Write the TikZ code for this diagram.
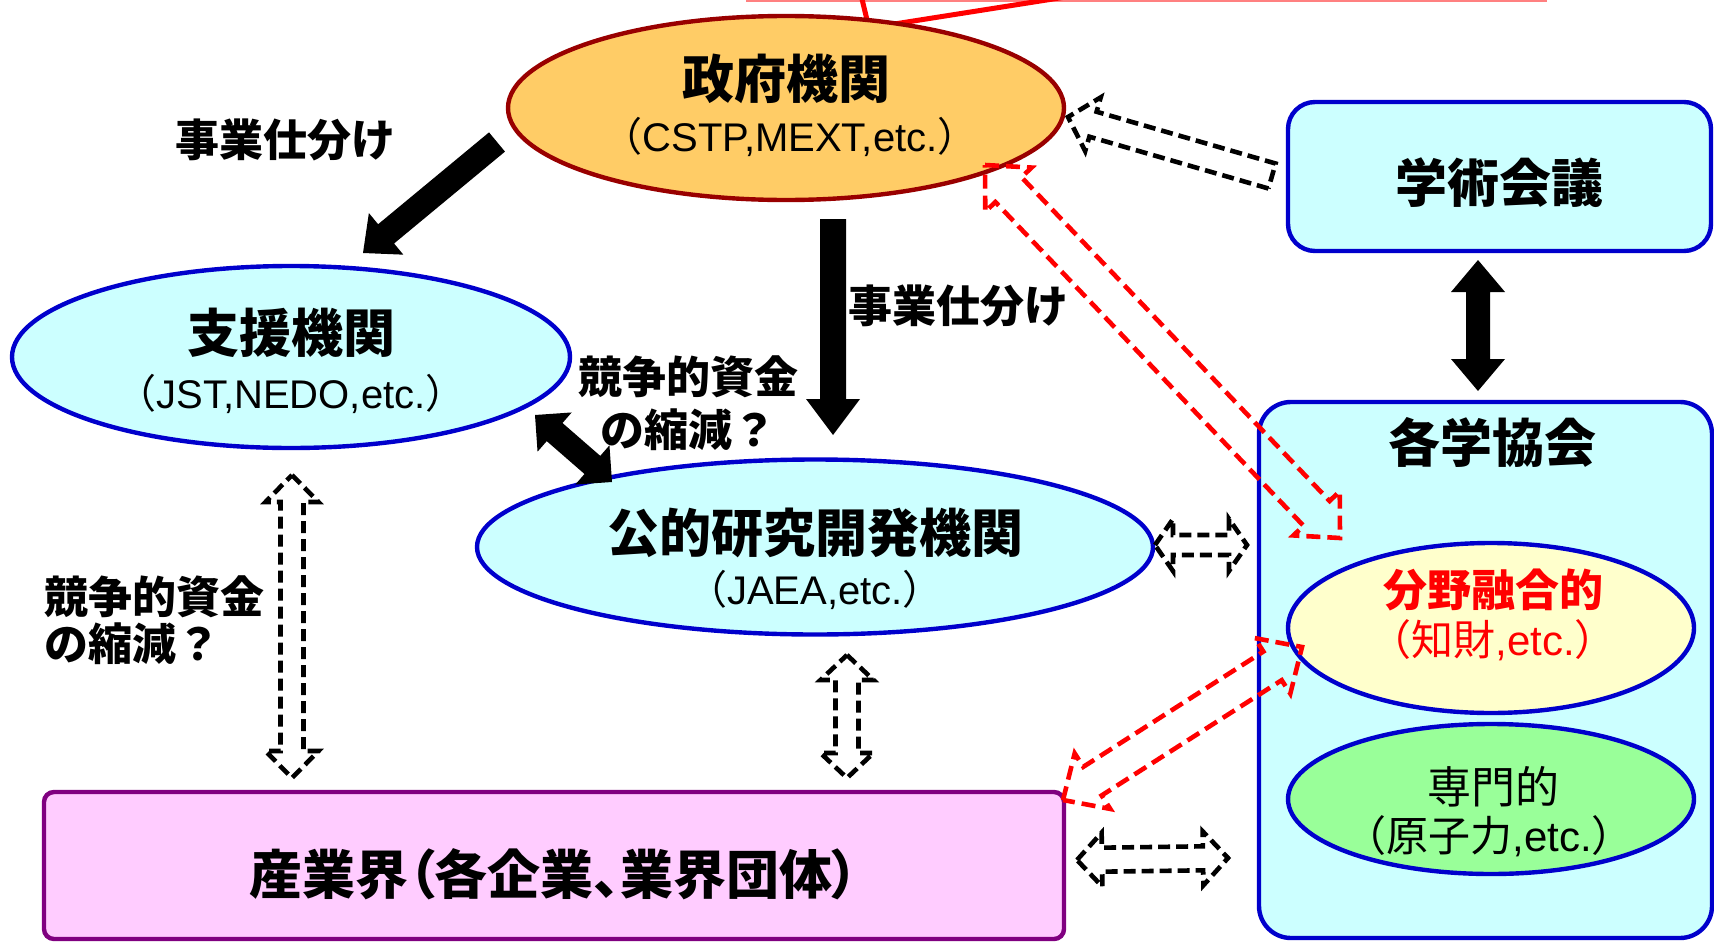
\documentclass[tikz,border=0pt]{standalone}
\usepackage{fontspec}
\setmainfont{Liberation Sans}
\newfontfamily\cjk{Noto Sans CJK JP}
\newfontfamily\cjkp{Noto Sans CJK JP}[RawFeature=+palt]
\usetikzlibrary{shapes.geometric,calc}
\definecolor{ovblue}{HTML}{0000CC}
\definecolor{ltcyan}{HTML}{CCFFFF}
\definecolor{govfill}{HTML}{FFCC66}
\definecolor{govline}{HTML}{990000}
\definecolor{ltyellow}{HTML}{FFFFCC}
\definecolor{ltgreen}{HTML}{99FF99}
\definecolor{ltpink}{HTML}{FFCCFF}
\definecolor{purp}{HTML}{800080}
\definecolor{callpink}{HTML}{FF8080}
\newcommand\sarrow[6]{%
  \coordinate (hb) at ($(#3)!#6!(#2)$);
  \draw[#1] ($(#2)!#4!90:(#3)$) -- ($(hb)!#4!90:(#3)$) -- ($(hb)!#5!90:(#3)$) -- (#3)
    -- ($(hb)!#5!-90:(#3)$) -- ($(hb)!#4!-90:(#3)$) -- ($(#2)!#4!-90:(#3)$) -- cycle;}
\newcommand\darrow[6]{%
  \coordinate (ha) at ($(#2)!#6!(#3)$);
  \coordinate (hb) at ($(#3)!#6!(#2)$);
  \draw[#1] (#2) -- ($(ha)!#5!90:(#3)$) -- ($(ha)!#4!90:(#3)$) -- ($(hb)!#4!90:(#3)$)
    -- ($(hb)!#5!90:(#3)$) -- (#3) -- ($(hb)!#5!-90:(#3)$) -- ($(hb)!#4!-90:(#3)$)
    -- ($(ha)!#4!-90:(#3)$) -- ($(ha)!#5!-90:(#3)$) -- cycle;}
\newcommand\jl{{\cjk （}}
\newcommand\jr{{\cjk ）}}
\begin{document}
\begin{tikzpicture}[x=0.5pt,y=-0.5pt,
  ttl/.style={font=\cjk\bfseries\fontsize{26}{30}\selectfont, inner sep=0},
  sub/.style={font=\fontsize{20}{24}\selectfont, inner sep=0},
  lbl/.style={font=\cjk\bfseries\fontsize{22}{26.5}\selectfont, inner sep=0},
  oval/.style={ellipse, draw=ovblue, line width=2.2pt, inner sep=0},
  rbox/.style={draw=ovblue, fill=ltcyan, line width=2.2pt},
  barr/.style={fill=black, draw=none},
  dblk/.style={draw=black, line width=2.3pt, dash pattern=on 6pt off 3pt},
  dred/.style={draw=red, line width=2.3pt, dash pattern=on 7pt off 3.5pt}]
\path[use as bounding box] (0,0) rectangle (1714,942);
\clip (0,0) rectangle (1714,942);
\fill[white] (0,0) rectangle (1714,942);

% callout tip at top
\draw[callpink, line width=0.8pt] (746,1) -- (1547,1);
\draw[red, line width=2.5pt] (861,-5) -- (869,28) -- (1110,-10);

% boxes
\draw[rbox, rounded corners=13.5pt] (1288,102) rectangle (1711,251);
\node[ttl] (gakujutsu) at (1499,183) {学術会議};
\draw[rbox, rounded corners=16pt] (1259,402) rectangle (1712,938);
\node[ttl] (kakugaku) at (1492,443) {各学協会};
\draw[draw=purp, fill=ltpink, line width=2.2pt, rounded corners=5pt] (44,792) rectangle (1064,939);
\node[ttl, font=\cjkp\bfseries\fontsize{26.5}{30}\selectfont] (sangyo) at (554,874) {産業界（各企業、業界団体）};

% ellipses
\node[oval, draw=govline, fill=govfill, minimum width=278pt, minimum height=92pt] (seifu) at (786,108) {};
\node[ttl] at (786,79) {政府機関};
\node[sub] at (790,137) {\jl CSTP,MEXT,etc.\jr};

\node[oval, fill=ltcyan, minimum width=279pt, minimum height=91pt] (shien) at (291,357) {};
\node[ttl] at (291,333) {支援機関};
\node[sub] at (291,394) {\jl JST,NEDO,etc.\jr};

\node[oval, fill=ltcyan, minimum width=338pt, minimum height=87.5pt] (koteki) at (815,547) {};
\node[ttl] at (815,533) {公的研究開発機関};
\node[sub] at (815,590) {\jl JAEA,etc.\jr};

\node[oval, fill=ltyellow, minimum width=203pt, minimum height=85pt] (bunya) at (1491,628) {};
\node[lbl, text=red] at (1493,590) {分野融合的};
\node[sub, text=red, font=\fontsize{21}{24}\selectfont] at (1493,640) {\jl{\cjk 知財},etc.\jr};

\node[oval, fill=ltgreen, minimum width=203pt, minimum height=75pt] (senmon) at (1491,799) {};
\node[font=\cjk\fontsize{22}{26}\selectfont, inner sep=0] at (1493,787) {専門的};
\node[sub, font=\fontsize{21}{24}\selectfont] at (1489,836) {\jl{\cjk 原子力},etc.\jr};

% labels
\node[lbl] (shiwake1) at (285,140) {事業仕分け};
\node[lbl] (shiwake2) at (958,306) {事業仕分け};
\node[lbl, align=center] (kyoso1) at (688,403) {競争的資金\\の縮減？};
\node[lbl, align=left, anchor=west, font=\cjk\bfseries\fontsize{22}{23.5}\selectfont] (kyoso2) at (44,620) {競争的資金\\の縮減？};

% arrow end coordinates
\coordinate (a1s) at (497,142); \coordinate (a1e) at (363,253);
\coordinate (a2s) at (833,219); \coordinate (a2e) at (833,435);
\coordinate (a3s) at (535,415); \coordinate (a3e) at (612,482);
\coordinate (a4s) at (1478,260); \coordinate (a4e) at (1478,391);
\coordinate (d1s) at (1272,176); \coordinate (d1e) at (1068,117);
\coordinate (d2s) at (985,165); \coordinate (d2e) at (1340,538);
\coordinate (d3s) at (1063,800); \coordinate (d3e) at (1302,647);
\coordinate (d4s) at (292,475); \coordinate (d4e) at (292,778);
\coordinate (d5s) at (847,655); \coordinate (d5e) at (847,778);
\coordinate (d6s) at (1155,545); \coordinate (d6e) at (1247,545);
\coordinate (d7s) at (1077,860); \coordinate (d7e) at (1228,858);

% bold arrows
\sarrow{barr}{a1s}{a1e}{6.25pt}{13.5pt}{15pt}
\sarrow{barr}{a2s}{a2e}{6.5pt}{13.5pt}{18pt}
\darrow{barr}{a3s}{a3e}{6pt}{13pt}{13pt}
\darrow{barr}{a4s}{a4e}{6pt}{13.5pt}{16pt}

% dashed hollow arrows
\sarrow{dblk}{d1s}{d1e}{6.5pt}{14pt}{13pt}
\darrow{dred}{d2s}{d2e}{9pt}{16pt}{17pt}
\darrow{dred}{d3s}{d3e}{8.5pt}{16.5pt}{17.5pt}
\darrow{dblk}{d4s}{d4e}{5.75pt}{13.25pt}{13.5pt}
\darrow{dblk}{d5s}{d5e}{5.75pt}{13.25pt}{12.5pt}
\darrow{dblk}{d6s}{d6e}{5pt}{13pt}{9pt}
\darrow{dblk}{d7s}{d7e}{6pt}{13.5pt}{12.5pt}
\end{tikzpicture}
\end{document}
